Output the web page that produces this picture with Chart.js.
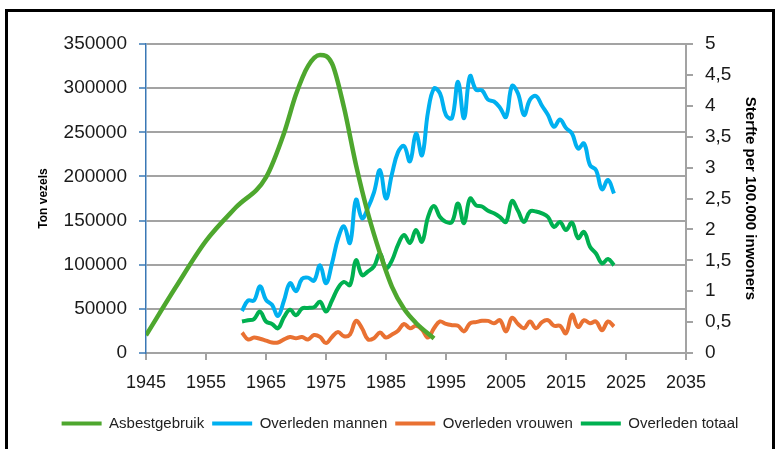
<!DOCTYPE html>
<html>
<head>
<meta charset="utf-8">
<script src="https://cdn.jsdelivr.net/npm/chart.js@4/dist/chart.umd.min.js"></script>
<style>
  body { margin: 0; background: #fff; }
  #wrap { position: relative; width: 778px; height: 449px; overflow: hidden; }
  #frame { position: absolute; left: 5px; top: 9px; width: 764px; height: 460px; border: 3px solid #000; }
  canvas { position: absolute; left: 0; top: 0; }
</style>
</head>
<body>
<div id="wrap">
  <div id="frame"></div>
  <canvas id="chart" width="778" height="449"></canvas>
</div>
<script>
// asbestos use (ton), left axis
const asbestYears = [1945, 1950, 1955, 1960, 1965, 1968, 1970, 1972, 1974, 1976, 1978, 1980, 1982, 1984, 1986, 1988, 1990, 1993];
const asbestTon = [20000, 75000, 127000, 165000, 199000, 249000, 293000, 325000, 337500, 328000, 278000, 213000, 158000, 113000, 75000, 50000, 34000, 16500];

// deaths per 100.000, right axis
const years = [1961, 1962, 1963, 1964, 1965, 1966, 1967, 1968, 1969, 1970,
  1971, 1972, 1973, 1974, 1975, 1976, 1977, 1978, 1979, 1980,
  1981, 1982, 1983, 1984, 1985, 1986, 1987, 1988, 1989, 1990,
  1991, 1992, 1993, 1994, 1995, 1996, 1997, 1998, 1999, 2000,
  2001, 2002, 2003, 2004, 2005, 2006, 2007, 2008, 2009, 2010,
  2011, 2012, 2013, 2014, 2015, 2016, 2017, 2018, 2019, 2020,
  2021, 2022, 2023];
const mannen = [0.68, 0.85, 0.85, 1.08, 0.86, 0.78, 0.6, 0.85, 1.13, 1.0,
  1.2, 1.22, 1.17, 1.42, 1.13, 1.45, 1.85, 2.05, 1.78, 2.48,
  2.18, 2.35, 2.6, 2.96, 2.5, 2.9, 3.25, 3.35, 3.1, 3.55,
  3.2, 3.9, 4.28, 4.2, 3.85, 3.8, 4.39, 3.8, 4.48, 4.26,
  4.25, 4.1, 4.07, 3.97, 3.82, 4.32, 4.2, 3.85, 4.1, 4.16,
  4.0, 3.85, 3.66, 3.78, 3.64, 3.55, 3.31, 3.39, 3.04, 2.96,
  2.65, 2.8, 2.58];
const vrouwen = [0.33, 0.22, 0.25, 0.23, 0.2, 0.17, 0.17, 0.22, 0.26, 0.24,
  0.26, 0.22, 0.29, 0.26, 0.16, 0.26, 0.34, 0.27, 0.3, 0.52,
  0.4, 0.22, 0.24, 0.33, 0.25, 0.3, 0.36, 0.47, 0.4, 0.44,
  0.38, 0.25, 0.4, 0.51, 0.47, 0.45, 0.44, 0.35, 0.48, 0.5,
  0.52, 0.52, 0.48, 0.53, 0.35, 0.57, 0.47, 0.4, 0.51, 0.4,
  0.5, 0.53, 0.44, 0.44, 0.32, 0.62, 0.42, 0.53, 0.48, 0.51,
  0.37, 0.51, 0.43];
const totaal = [0.51, 0.53, 0.55, 0.67, 0.51, 0.47, 0.4, 0.58, 0.7, 0.61,
  0.72, 0.73, 0.74, 0.83, 0.67, 0.85, 1.05, 1.15, 1.1, 1.5,
  1.26, 1.32, 1.4, 1.61, 1.37, 1.5, 1.75, 1.91, 1.78, 1.99,
  1.8, 2.2, 2.38, 2.2, 2.12, 2.12, 2.42, 2.1, 2.5, 2.39,
  2.37, 2.3, 2.26, 2.2, 2.12, 2.46, 2.3, 2.12, 2.29, 2.29,
  2.26, 2.2, 2.04, 2.12, 1.99, 2.11, 1.86, 1.96, 1.72, 1.61,
  1.45, 1.52, 1.42];

function points(xs, ys) {
  return xs.map((x, i) => ({ x: x, y: ys[i] }));
}

const fam = "'Liberation Sans', Arial, sans-serif";
const xTickFont = { family: fam, size: 18 };
const yTickFont = { family: fam, size: 19 };
const gridGray = '#a3a3a3';

new Chart(document.getElementById('chart'), {
  type: 'line',
  data: {
    datasets: [
      { label: 'Asbestgebruik', data: points(asbestYears, asbestTon), yAxisID: 'y',
        borderColor: '#4ea72e', backgroundColor: '#4ea72e', borderWidth: 4.5, cubicInterpolationMode: 'monotone' },
      { label: 'Overleden mannen', data: points(years, mannen), yAxisID: 'y1',
        borderColor: '#00b0f0', backgroundColor: '#00b0f0', borderWidth: 4, tension: 0.4 },
      { label: 'Overleden vrouwen', data: points(years, vrouwen), yAxisID: 'y1',
        borderColor: '#e97132', backgroundColor: '#e97132', borderWidth: 4, tension: 0.4 },
      { label: 'Overleden totaal', data: points(years, totaal), yAxisID: 'y1',
        borderColor: '#00b050', backgroundColor: '#00b050', borderWidth: 4, tension: 0.4 }
    ]
  },
  options: {
    responsive: false,
    animation: false,
    devicePixelRatio: 1,
    elements: { point: { radius: 0 } },
    layout: { padding: { left: 30, right: 8, top: 44, bottom: 8 } },
    scales: {
      x: {
        type: 'linear', min: 1945, max: 2035,
        afterFit: (s) => { s.height = 55; },
        ticks: { stepSize: 10, font: xTickFont, color: '#1a1a1a', padding: 12, maxRotation: 0,
          callback: (v) => String(v) },
        grid: { drawOnChartArea: false, tickLength: 7, color: gridGray, lineWidth: 2 },
        border: { color: gridGray, width: 2 }
      },
      y: {
        position: 'left', min: 0, max: 350000,
        afterFit: (s) => { s.width = 116; },
        ticks: { stepSize: 50000, font: yTickFont, color: '#1a1a1a', padding: 12,
          callback: (v) => String(v) },
        grid: { color: gridGray, lineWidth: 2, tickColor: '#3a78b5', tickLength: 7, tickWidth: 1.5 },
        border: { color: '#3a78b5', width: 1.5 },
        title: { display: true, text: 'Ton vezels', font: { family: fam, size: 12, weight: 'bold' },
          color: '#000', padding: { top: 6, bottom: 4 } }
      },
      y1: {
        position: 'right', min: 0, max: 5,
        afterFit: (s) => { s.width = 84; },
        ticks: { stepSize: 0.5, font: yTickFont, color: '#1a1a1a', padding: 12,
          callback: (v) => String(v).replace('.', ',') },
        grid: { drawOnChartArea: false, color: gridGray, lineWidth: 2, tickLength: 7 },
        border: { color: gridGray, width: 2 },
        title: { display: true, text: 'Sterfte per 100.000 inwoners', font: { family: fam, size: 15, weight: 'bold' },
          color: '#000', padding: { top: 11, bottom: 4 } }
      }
    },
    plugins: {
      tooltip: { enabled: false },
      legend: {
        position: 'bottom',
        labels: {
          boxWidth: 40, boxHeight: 4, padding: 8, color: '#222',
          font: { family: fam, size: 15 },
          generateLabels: (chart) => {
            const items = Chart.defaults.plugins.legend.labels.generateLabels(chart);
            items.forEach(it => { it.fillStyle = it.strokeStyle; it.lineWidth = 0; });
            return items;
          }
        }
      }
    }
  }
});
</script>
</body>
</html>
